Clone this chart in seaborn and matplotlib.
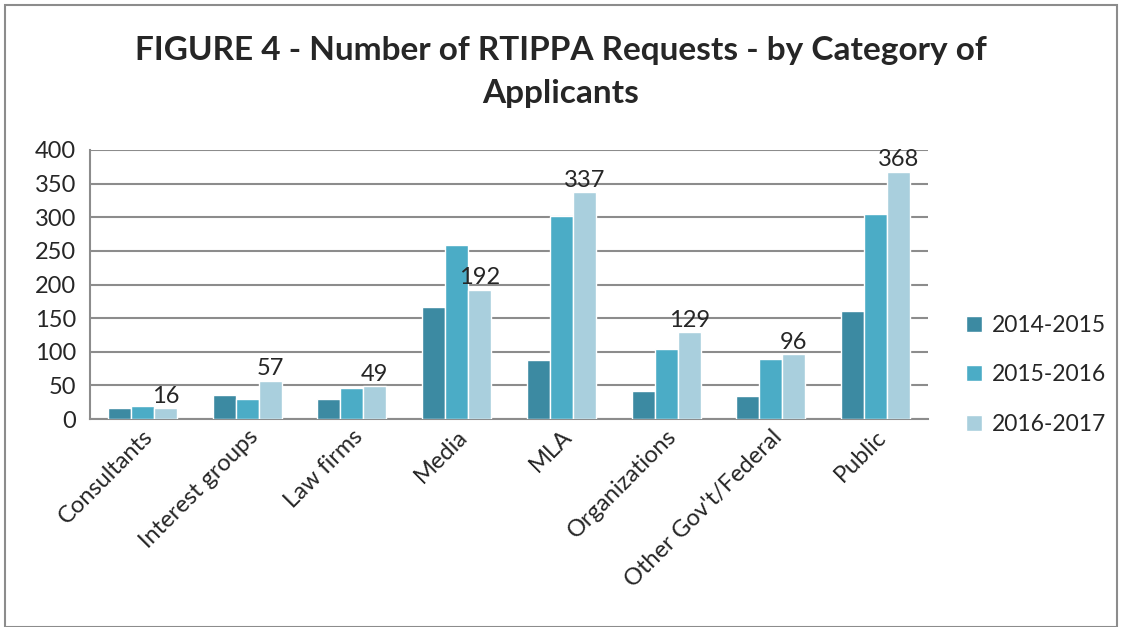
import pandas as pd
import matplotlib
matplotlib.use('Agg')
import matplotlib.pyplot as plt
from matplotlib.patches import Rectangle
import seaborn as sns

categories = ["Consultants", "Interest groups", "Law firms", "Media", "MLA",
              "Organizations", "Other Gov't/Federal", "Public"]
years = ["2014-2015", "2015-2016", "2016-2017"]
values_2014 = [17, 35, 30, 167, 87, 41, 34, 160]
values_2015 = [20, 29, 46, 258, 302, 104, 89, 305]
values_2016 = [16, 57, 49, 192, 337, 129, 96, 368]

colors = ["#3C8AA2", "#4BACC6", "#A9CFDD"]

df = pd.DataFrame({
    "Category": categories * 3,
    "Year": [years[0]] * 8 + [years[1]] * 8 + [years[2]] * 8,
    "Requests": values_2014 + values_2015 + values_2016,
})

sns.set_style("white")
plt.rcParams['font.family'] = ['Lato', 'DejaVu Sans']

fig = plt.figure(figsize=(11.22, 6.27), dpi=100)
ax = fig.add_axes([90 / 1122, 1 - 419 / 627, (928 - 90) / 1122, (419 - 150) / 627])

sns.barplot(data=df, x="Category", y="Requests", hue="Year", palette=colors,
            width=0.66, ax=ax, saturation=1, zorder=3)

ax.set_ylim(0, 400)
ax.set_yticks(range(0, 401, 50))
ax.yaxis.grid(True, color="#8c8c8c", linewidth=1.5, zorder=0)
ax.set_axisbelow(True)
for s in ["top", "right"]:
    ax.spines[s].set_visible(False)
for s in ["left", "bottom"]:
    ax.spines[s].set_color("#8c8c8c")
    ax.spines[s].set_linewidth(1.5)
ax.set_xlabel("")
ax.set_ylabel("")
ax.tick_params(axis="y", labelsize=17, length=0, pad=10)
ax.tick_params(axis="x", labelsize=17, length=0, pad=5)
plt.setp(ax.get_xticklabels(), rotation=45, ha="right", rotation_mode="anchor")

# labels only on the latest year
ax.bar_label(ax.containers[2], labels=[str(v) for v in values_2016], fontsize=17, padding=1)

ax.legend(loc="center left", bbox_to_anchor=(1.021, 0.164), frameon=False, fontsize=16.5,
          handlelength=0.7, handleheight=0.7, handletextpad=0.4, labelspacing=1.25)

fig.text(0.5, 1 - 72 / 627, "FIGURE 4 - Number of RTIPPA Requests - by Category of\nApplicants",
         ha="center", va="center", fontsize=24, fontweight="bold", linespacing=1.55)

fig.patches.append(Rectangle((5 / 1122, 0), 1 - 10 / 1122, 1 - 5 / 627, transform=fig.transFigure,
                             fill=False, edgecolor="#8c8c8c", linewidth=1.5))

plt.savefig("out.png", dpi=100)
plt.close()
